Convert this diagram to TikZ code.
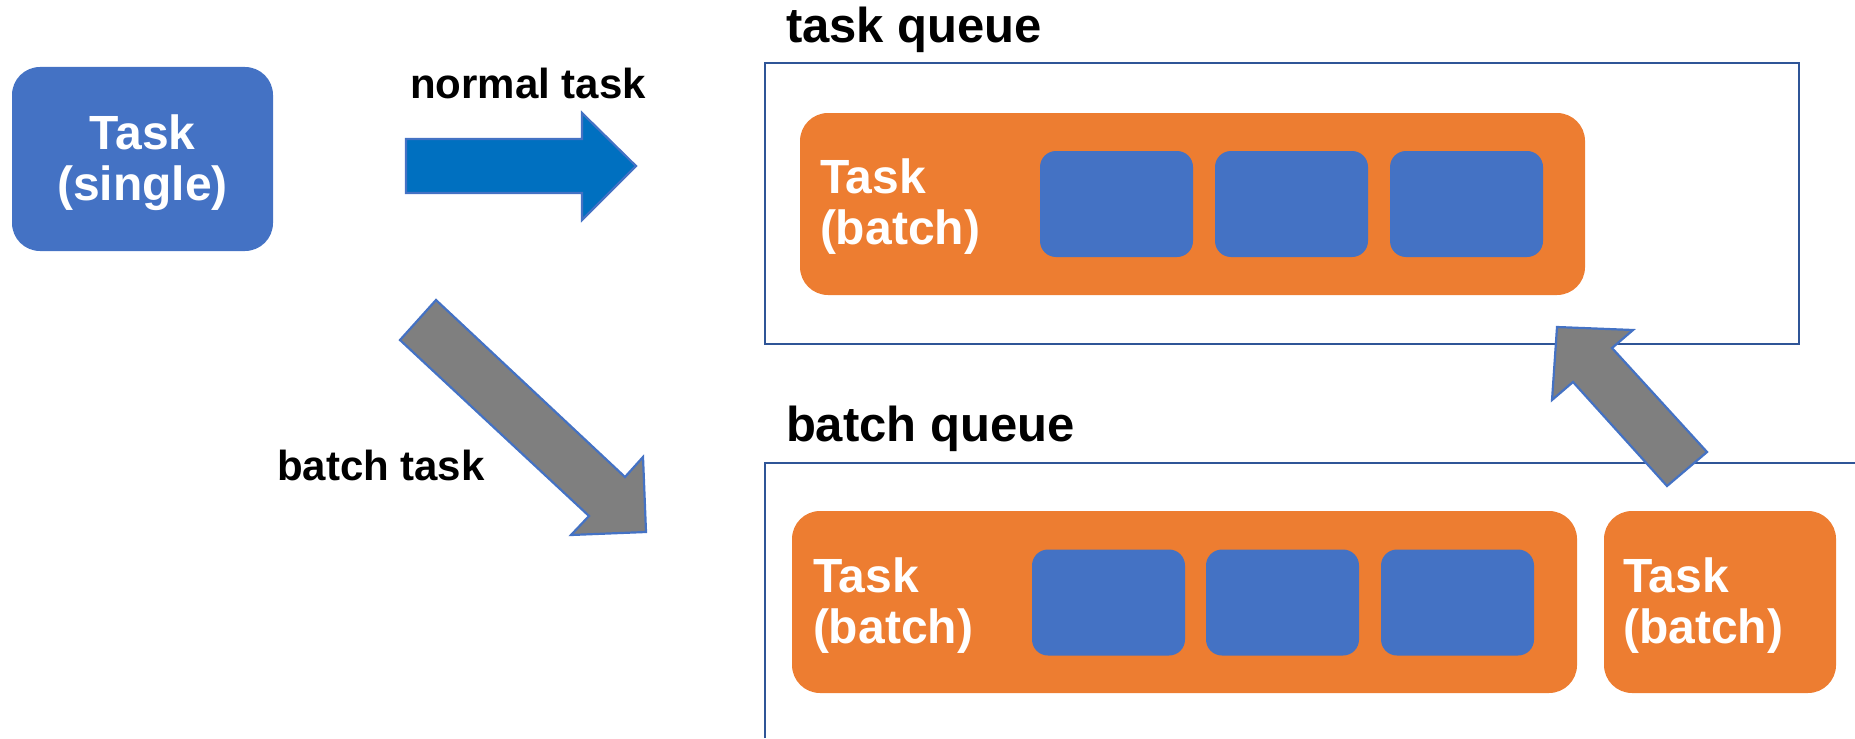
\documentclass[tikz,border=0pt]{standalone}
\usepackage{fontspec}
\setmainfont{Liberation Sans}
\definecolor{boxblue}{HTML}{4472C4}
\definecolor{taskorange}{HTML}{ED7D31}
\definecolor{arrowblue}{HTML}{0070C0}
\definecolor{arrowgrey}{HTML}{7F7F7F}
\definecolor{queueline}{HTML}{2F5597}
\begin{document}
\begin{tikzpicture}[x=0.5pt,y=-0.5pt,
  every node/.style={inner sep=0pt, outer sep=0pt},
  queuebox/.style={draw=queueline, line width=1.4pt},
  singlebox/.style={fill=boxblue, rounded corners=14pt, minimum width=130.5pt, minimum height=92pt},
  batchbox/.style={fill=taskorange, rounded corners=14pt, minimum height=91pt},
  slotbox/.style={fill=boxblue, rounded corners=8pt, minimum width=76.5pt, minimum height=53pt},
  boxtext/.style={text=white, font=\bfseries\fontsize{24}{25.5}\selectfont},
  arrowlabel/.style={anchor=base west, font=\bfseries\fontsize{21}{25}\selectfont},
  queuetitle/.style={anchor=base west, font=\bfseries\fontsize{24.5}{28}\selectfont},
  blockarrow/.style={draw=boxblue, line width=1.1pt, line join=miter}
]
\useasboundingbox (0,0) rectangle (1855,738);

% single task
\node[singlebox] (single) at (142.5,159) {};
\node[boxtext, align=center, anchor=north] (singletext) at (142.5,114.6) {Task\\(single)};

% task queue
\node[queuetitle] (tqtitle) at (786,43) {task queue};
\node[queuebox, minimum width=517pt, minimum height=140.5pt] (tq) at (1282,203.5) {};
\node[batchbox, minimum width=392.5pt] (tqbatch) at (1192.5,204) {};
\node[slotbox] (tqa) at (1116.5,204) {};
\node[slotbox] (tqb) at (1291.5,204) {};
\node[slotbox] (tqc) at (1466.5,204) {};
\node[boxtext, align=left, anchor=north west] (tqtext) at (820,158.6) {Task\\(batch)};

% batch queue (open towards the right and bottom)
\node[queuetitle] (bqtitle) at (786,441) {batch queue};
\coordinate (bqcorner) at (765,463);
\draw[queueline, line width=1.4pt] (765,738) -- (bqcorner) -- (1855,463);
\node[batchbox, minimum width=392.5pt] (bqbatch) at (1184.5,602) {};
\node[slotbox] (bqa) at (1108.5,602.5) {};
\node[slotbox] (bqb) at (1282.5,602.5) {};
\node[slotbox] (bqc) at (1457.5,602.5) {};
\node[boxtext, align=left, anchor=north west] (bqtext) at (813,557.6) {Task\\(batch)};
\node[batchbox, minimum width=116pt] (bqnext) at (1720,602) {};
\node[boxtext, align=left, anchor=north west] (bqnexttext) at (1623,557.6) {Task\\(batch)};

% arrow labels
\node[arrowlabel] (normallabel) at (410,98) {normal task};
\node[arrowlabel] (batchlabel) at (277,480) {batch task};

% block arrows
\draw[blockarrow, fill=arrowblue]
  (406,139) -- (582,139) -- (582,113) -- (636,166) -- (582,220) -- (582,193) -- (406,193) -- cycle;
\draw[blockarrow, fill=arrowgrey]
  (436,300) -- (625,477) -- (643,457) -- (646,532) -- (571,535) -- (589,516) -- (400,340) -- cycle;
\draw[blockarrow, fill=arrowgrey]
  (1667,486) -- (1707,452) -- (1612,348) -- (1633,330) -- (1557,327) -- (1552,400) -- (1573,382) -- cycle;
\end{tikzpicture}
\end{document}
